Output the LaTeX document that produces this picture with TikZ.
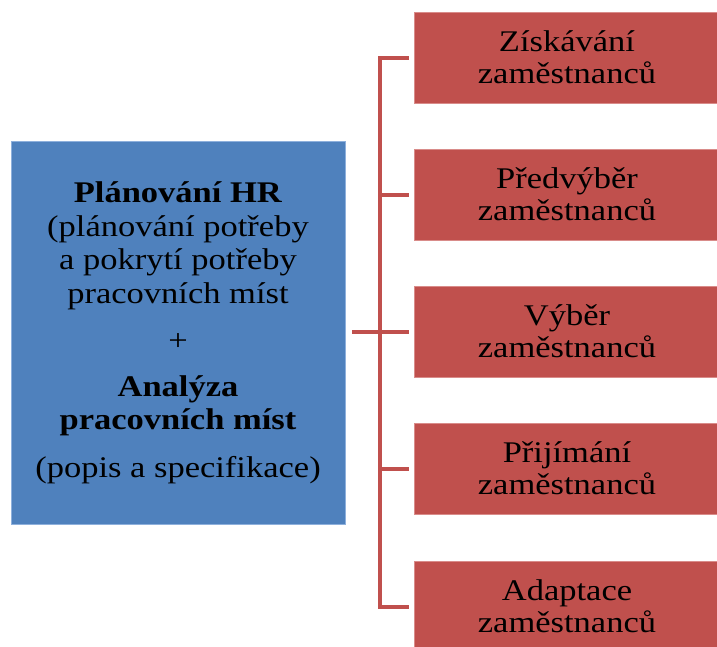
\documentclass[tikz,border=0pt]{standalone}
\usepackage{fontspec}
\setmainfont{Liberation Serif}[FakeStretch=1.15]
\definecolor{hrblue}{HTML}{4F81BD}
\definecolor{hrblueedge}{HTML}{8EB0DC}
\definecolor{hrred}{HTML}{C0504D}
\definecolor{hrrededge}{HTML}{D98C8A}
\begin{document}
\begin{tikzpicture}[x=1pt,y=-1pt]
\tikzset{
  bluebox/.style={draw=hrblueedge,line width=0.8pt,fill=hrblue,minimum width=334pt,minimum height=383pt,inner sep=0pt,align=center,font=\fontsize{30}{33.5}\selectfont,text=black},
  redbox/.style={draw=hrrededge,line width=0.8pt,fill=hrred,minimum width=306pt,minimum height=91pt,inner sep=0pt,align=center,font=\fontsize{30}{32}\selectfont,text=black},
  link/.style={draw=hrred,line width=4pt}
}
\useasboundingbox (0,0) rectangle (717,646);
\clip (0,0) rectangle (717,646);
\node[bluebox] (hr) at (178,333) {\textbf{Plánování HR}\\(plánování potřeby\\a pokrytí potřeby\\pracovních míst\\[14pt]+\\[12pt]\textbf{Analýza}\\\textbf{pracovních míst}\\[14pt](popis a specifikace)};
\node[redbox] (r1) at (567,57.5) {Získávání\\zaměstnanců};
\node[redbox] (r2) at (567,194.5) {Předvýběr\\zaměstnanců};
\node[redbox] (r3) at (567,331.5) {Výběr\\zaměstnanců};
\node[redbox] (r4) at (567,468.5) {Přijímání\\zaměstnanců};
\node[redbox] (r5) at (567,606.5) {Adaptace\\zaměstnanců};
\coordinate (bus) at (380,331.5);
\coordinate (top) at (380,57.5);
\coordinate (bot) at (380,606.5);
\draw[link] ([xshift=7pt]hr.east |- r3.west) -- ([xshift=-5pt]r3.west);
\draw[link,line cap=rect] (top) -- (bot);
\foreach \r in {r1,r2,r4,r5}{
  \draw[link] (\r.west -| bus) -- ([xshift=-5pt]\r.west);
}
\end{tikzpicture}
\end{document}
